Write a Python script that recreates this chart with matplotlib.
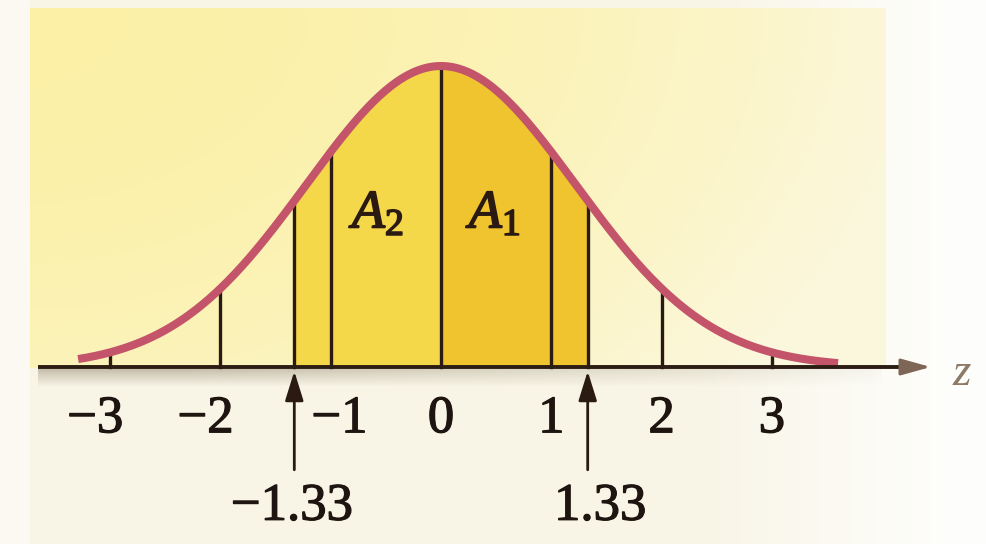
import numpy as np
import matplotlib
matplotlib.use("Agg")
import matplotlib.pyplot as plt
import matplotlib.patheffects as pe

plt.rcParams["font.family"] = ["Liberation Serif", "DejaVu Serif"]
plt.rcParams["mathtext.fontset"] = "custom"
plt.rcParams["mathtext.rm"] = "Liberation Serif"
plt.rcParams["mathtext.it"] = "Liberation Serif:italic"

# z values marked on the axis
ticks = [-3, -2, -1, 0, 1, 2, 3]
marks = [-1.33, 1.33]
area_labels = [r"$A_2$", r"$A_1$"]
area_label_z = [-0.56, 0.50]

SPREAD = 1.22          # width of the drawn bell
Z_LEFT, Z_RIGHT = -3.29, 3.60


def bell(z):
    return np.exp(-z ** 2 / (2 * SPREAD ** 2)) / (SPREAD * np.sqrt(2 * np.pi))


W, H = 986, 544
fig = plt.figure(figsize=(W / 100, H / 100), dpi=100)

# page / panel background
bg = fig.add_axes([0, 0, 1, 1])
bg.set_axis_off()
yy, xx = np.mgrid[0:H, 0:W].astype(float)
paper = np.array([0.975, 0.960, 0.905])
white = np.array([0.995, 0.995, 0.985])
img = np.empty((H, W, 3))
fade = np.clip((xx - 700) / 250, 0, 1)[..., None]
img[:] = paper * (1 - fade) + white * fade
img[:, :30] = [0.985, 0.978, 0.950]
panel = (xx >= 30) & (xx <= 885) & (yy >= 8) & (yy <= 367)
yel = np.array([0.988, 0.942, 0.650])
pale = np.array([0.988, 0.970, 0.870])
t = np.clip((xx / 885) ** 2 * 0.9 + (yy / 367) ** 2 * 0.35, 0, 1)[..., None]
pcol = yel * (1 - t) + pale * t
img[panel] = pcol[panel]
bg.imshow(img, extent=[0, W, H, 0], aspect="auto")
bg.set_xlim(0, W)
bg.set_ylim(H, 0)

# main drawing axes: z in x, density in y
ax = fig.add_axes([0, 0, 1, 1])
ax.set_axis_off()
ax.patch.set_alpha(0)
PX_Z, X0 = 110.3, 441
AXIS_Y, PEAK_Y = 367, 66
py = (AXIS_Y - PEAK_Y) / bell(0)
ax.set_xlim(-X0 / PX_Z, (W - X0) / PX_Z)
ax.set_ylim(-(H - AXIS_Y) / py, AXIS_Y / py)

# shadow under the axis line
shade = np.zeros((20, 200, 4))
shade[..., :3] = [0.55, 0.50, 0.40]
sy = np.linspace(0.45, 0.0, 20)[:, None]
sx = np.clip(1.2 - np.linspace(0, 1, 200) * 1.1, 0, 1)[None, :]
shade[..., 3] = sy * sx
ax.imshow(shade, extent=[-3.65, 4.0, -20 / py, -2 / py], aspect="auto", zorder=1)

# shaded areas A2 and A1
zl = np.linspace(marks[0], 0, 200)
zr = np.linspace(0, marks[1], 200)
ax.fill_between(zl, 0, bell(zl), color="#f4d84a", lw=0, zorder=2)
ax.fill_between(zr, 0, bell(zr), color="#efc42f", lw=0, zorder=2)

# vertical ordinates
for z in ticks + marks:
    ax.plot([z, z], [0, bell(z)], color="#2a1a12", lw=2.4, zorder=3)

# bell curve
zc = np.linspace(Z_LEFT, Z_RIGHT, 400)
ax.plot(zc, bell(zc), color="#c3546a", lw=5.8, solid_capstyle="butt", zorder=4)

# z axis with arrow head
ax.plot([-3.65, 4.25], [0, 0], color="#2b1c14", lw=2.8, zorder=5,
        solid_capstyle="butt")
ax.annotate("", xy=(4.44, 0), xytext=(4.2, 0),
            arrowprops=dict(arrowstyle="-|>,head_length=0.9,head_width=0.25",
                            mutation_scale=20, color="#7d6656", lw=2.2,
                            shrinkA=0, shrinkB=0), zorder=5)
ax.annotate("z", xy=(4.72, 0), xytext=(0, -13), textcoords="offset points",
            ha="center", va="baseline", fontsize=34, style="italic",
            color="#8c7a68")

FS = 38
MINUS_W = 0.564 * FS
heavy = [pe.withStroke(linewidth=0.9, foreground="#1e1410")]
for z in ticks:
    # keep the digit centred under its tick, the minus sign hangs left
    dx = -MINUS_W / 2 if z < 0 else 0
    if z < 0 and any(0 < z - m < 0.5 for m in marks):
        dx += 17
    ax.annotate(str(z).replace("-", "\u2212"), xy=(z, 0), xytext=(dx, -47),
                textcoords="offset points", ha="center", va="baseline",
                fontsize=FS, color="#1e1410", path_effects=heavy)

for m in marks:
    ax.annotate("", xy=(m, 0), xytext=(0, -74), textcoords="offset points",
                arrowprops=dict(arrowstyle="-|>,head_length=0.9,head_width=0.28",
                                mutation_scale=20, color="#2a1a12", lw=2.0,
                                shrinkA=0, shrinkB=3))
    dx = 9 - (MINUS_W / 2 if m < 0 else 0)
    ax.annotate(f"{m:.2f}".replace("-", "\u2212"), xy=(m, 0), xytext=(dx, -110),
                textcoords="offset points", ha="center", va="baseline",
                fontsize=FS, color="#1e1410", path_effects=heavy)

for lab, z in zip(area_labels, area_label_z):
    ax.text(z, 139 / py, lab, ha="center", va="baseline", fontsize=39,
            color="#2a1a12", zorder=6,
            path_effects=[pe.withStroke(linewidth=1.2, foreground="#2a1a12")])

fig.savefig("out.png", dpi=100)
